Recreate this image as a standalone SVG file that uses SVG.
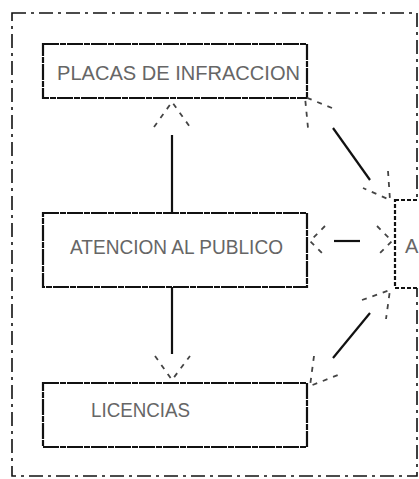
<svg xmlns="http://www.w3.org/2000/svg" width="419" height="479" viewBox="0 0 419 479">
<style>
.frame{fill:none;stroke:#111;stroke-width:1.6;stroke-dasharray:14 5 3 5}
.box{fill:#fff;stroke:#111;stroke-width:2.2;stroke-dasharray:16 1 6 1}
.lbl{font-family:"Liberation Sans",Arial,sans-serif;font-size:20px;fill:#666}
.line{fill:none;stroke:#111;stroke-width:2.2}
.head{fill:none;stroke:#444;stroke-width:1.8;stroke-dasharray:5 6}
</style>
<rect width="419" height="479" fill="#fff"/>
<g id="frame"><rect class="frame" x="12" y="13" width="405" height="463"/></g>
<g id="placas">
<rect class="box" x="43" y="44" width="264" height="54"/>
<text class="lbl" x="57" y="80" textLength="243" lengthAdjust="spacingAndGlyphs">PLACAS DE INFRACCION</text>
</g>
<g id="atencion">
<rect class="box" x="43" y="213" width="264" height="74"/>
<text class="lbl" x="70" y="254" textLength="213" lengthAdjust="spacingAndGlyphs">ATENCION AL PUBLICO</text>
</g>
<g id="licencias">
<rect class="box" x="43" y="383" width="264" height="64"/>
<text class="lbl" x="91" y="417" textLength="99" lengthAdjust="spacingAndGlyphs">LICENCIAS</text>
</g>
<g id="derecha">
<rect class="box" x="395" y="200" width="60" height="88" style="stroke-dasharray:4 2"/>
<text class="lbl" x="405" y="253">A</text>
</g>
<g id="connectors">
<path class="line" d="M172,135 V213"/>
<path class="head" d="M154,127 L172,102 L190,127"/>
<path class="line" d="M172,287 V354"/>
<path class="head" d="M155,356 L172,380 L190,356"/>
<path class="line" d="M334,241 H360"/>
<path class="head" d="M325,226 L310,241 L325,256"/>
<path class="head" d="M377,226 L392,241 L377,256"/>
<path class="line" d="M333,128 L370,180"/>
<path class="head" d="M332,108 L305,97 L308,128"/>
<path class="head" d="M388,171 L390,200 L363,188"/>
<path class="line" d="M333,358 L370,313"/>
<path class="head" d="M362,300 L390,290 L386,319"/>
<path class="head" d="M314,356 L310,386 L338,375"/>
</g>
</svg>
